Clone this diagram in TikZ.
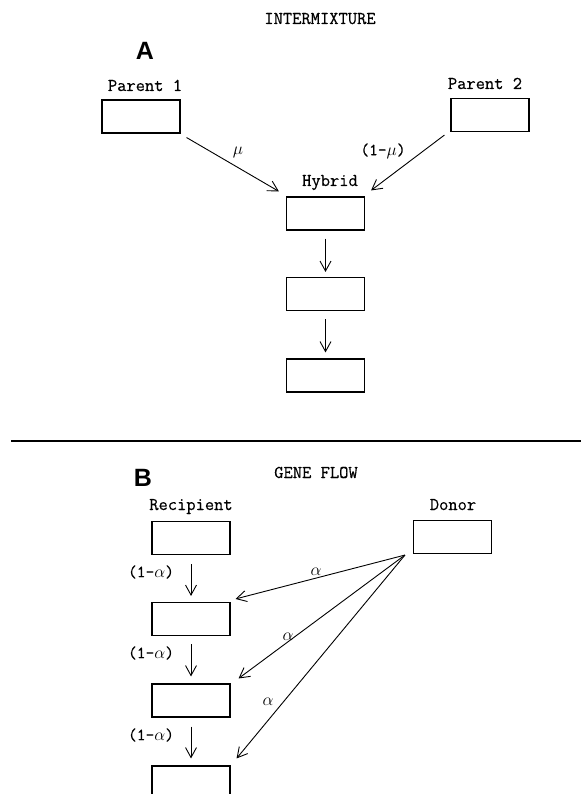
\documentclass[tikz,border=0pt]{standalone}
\usepackage{fontspec}
\newfontfamily\panelfont{Liberation Sans}
\newfontfamily\typewr{Latin Modern Mono}[FakeBold=0.4]
\usetikzlibrary{arrows.meta}
\begin{document}
\begin{tikzpicture}[x=1pt,y=-1pt,
  popbox/.style={draw, line width=1.1pt, minimum width=78pt, minimum height=33pt, inner sep=0pt},
  lbl/.style={font=\typewr\fontsize{18}{20}\selectfont, inner sep=0pt, anchor=base},
  coef/.style={font=\typewr\fontsize{17}{20}\selectfont, inner sep=0pt},
  greek/.style={font=\fontsize{16}{18}\selectfont, inner sep=0pt},
  panel/.style={font=\panelfont\bfseries\fontsize{25}{28}\selectfont, inner sep=0pt},
  arr/.style={line width=0.9pt, -{Straight Barb[length=10pt,width=11pt,line width=0.9pt]}}]
\useasboundingbox (0,0) rectangle (581,794);
\clip (0,0) rectangle (581,794);

% ---------- panel A: intermixture ----------
\node[lbl] (titleA) at (320,24) {INTERMIXTURE};
\node[panel] (panA) at (145,51) {A};

\node[lbl] (p1lbl) at (145,91) {Parent 1};
\node[popbox] (p1) at (141,116.5) {};
\node[lbl] (p2lbl) at (485,89) {Parent 2};
\node[popbox] (p2) at (490,115) {};

\node[lbl] (hylbl) at (330,186) {Hybrid};
\node[popbox] (hy) at (325.5,213.5) {};
\node[popbox] (h2) at (325.5,294) {};
\node[popbox] (h3) at (325.5,375.5) {};

\draw[arr] ([shift={(6,4)}]p1.south east) -- ([shift={(-7,-5)}]hy.north west);
\draw[arr] ([shift={(-6,3)}]p2.south west) -- ([shift={(6,-6)}]hy.north east);
\node[greek] (mu) at (238,152) {$\mu$};
\node[coef] (onemu) at (383,151) {(1-$\mu$)};

\draw[arr, shorten <=8pt, shorten >=5pt] (hy.south) -- (h2.north);
\draw[arr, shorten <=8pt, shorten >=6pt] (h2.south) -- (h3.north);

% ---------- separator ----------
\coordinate (sepL) at (11,441);
\coordinate (sepR) at (581,441);
\draw[line width=1.2pt] (sepL) -- (sepR);

% ---------- panel B: gene flow ----------
\node[panel] (panB) at (143,478) {B};
\node[lbl] (titleB) at (316,478) {GENE FLOW};

\node[lbl] (reclbl) at (191,510) {Recipient};
\node[popbox] (rec) at (191,538) {};
\node[popbox] (r2) at (191,619) {};
\node[popbox] (r3) at (191,700.5) {};
\node[popbox] (r4) at (191,782.5) {};

\node[lbl] (donlbl) at (453,510) {Donor};
\node[popbox] (don) at (452.5,537) {};

\draw[arr, shorten <=9pt, shorten >=6pt] (rec.south) -- (r2.north);
\draw[arr, shorten <=8pt, shorten >=7pt] (r2.south) -- (r3.north);
\draw[arr, shorten <=9pt, shorten >=7pt] (r3.south) -- (r4.north);
\node[coef] (c1) at (151,572) {(1-$\alpha$)};
\node[coef] (c2) at (151,653) {(1-$\alpha$)};
\node[coef] (c3) at (151,735) {(1-$\alpha$)};

\coordinate (src) at ([shift={(-8,1)}]don.south west);
\draw[arr] (src) -- ([shift={(5,-3)}]r2.north east);
\draw[arr] (src) -- ([shift={(8,-5)}]r3.north east);
\draw[arr] (src) -- ([shift={(6,-7)}]r4.north east);
\node[greek] (a1) at (316,572) {$\alpha$};
\node[greek] (a2) at (288,636.5) {$\alpha$};
\node[greek] (a3) at (268,702) {$\alpha$};
\end{tikzpicture}
\end{document}
